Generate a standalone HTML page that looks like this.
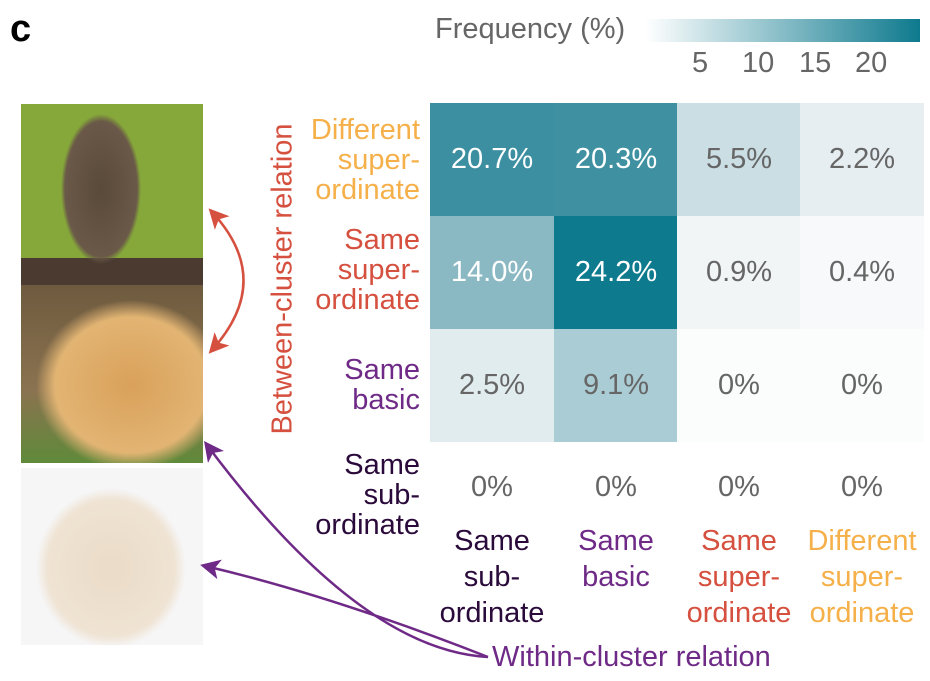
<!DOCTYPE html>
<html><head><style>
body{margin:0;background:#fff;width:930px;height:681px;overflow:hidden;position:relative;font-family:"Liberation Sans",sans-serif}
.a{position:absolute}
.cell{position:absolute;width:124px;height:113px;display:flex;align-items:center;justify-content:center;font-size:29px;color:#666}
.w{color:#fff}
.rl{position:absolute;right:510px;text-align:right;font-size:29px;line-height:30px}
.cl{position:absolute;width:124px;text-align:center;font-size:29px;line-height:36px;top:523px}
</style></head><body>
<div class="a" style="left:10px;top:8px;font-size:38px;font-weight:bold">c</div>
<div class="a" style="left:435px;top:13px;font-size:29px;color:#666">Frequency (%)</div>
<div class="a" style="left:645px;top:19px;width:275px;height:23px;background:linear-gradient(90deg,#fff,#0e7a8e)"></div>
<div class="a" style="left:692px;top:47px;font-size:29px;color:#666">5</div>
<div class="a" style="left:742px;top:47px;font-size:29px;color:#666">10</div>
<div class="a" style="left:799px;top:47px;font-size:29px;color:#666">15</div>
<div class="a" style="left:855px;top:47px;font-size:29px;color:#666">20</div>

<div class="cell w" style="left:430px;top:103px;background:#3b8fa0">20.7%</div>
<div class="cell w" style="left:554px;top:103px;background:#3f91a2">20.3%</div>
<div class="cell" style="left:677px;top:103px;background:#cadee3">5.5%</div>
<div class="cell" style="left:800px;top:103px;background:#e6eef1">2.2%</div>
<div class="cell w" style="left:430px;top:216px;background:#8ab9c4">14.0%</div>
<div class="cell w" style="left:554px;top:216px;background:#0e7a8e">24.2%</div>
<div class="cell" style="left:677px;top:216px;background:#f1f5f6">0.9%</div>
<div class="cell" style="left:800px;top:216px;background:#f7f9fa">0.4%</div>
<div class="cell" style="left:430px;top:329px;background:#e1ecef">2.5%</div>
<div class="cell" style="left:554px;top:329px;background:#aaccd4">9.1%</div>
<div class="cell" style="left:677px;top:329px;background:#fbfcfc">0%</div>
<div class="cell" style="left:800px;top:329px;background:#fbfcfc">0%</div>
<div class="cell" style="left:430px;top:441px;height:92px">0%</div>
<div class="cell" style="left:554px;top:441px;height:92px">0%</div>
<div class="cell" style="left:677px;top:441px;height:92px">0%</div>
<div class="cell" style="left:800px;top:441px;height:92px">0%</div>

<div class="rl" style="top:115px;color:#f5b04a">Different<br>super-<br>ordinate</div>
<div class="rl" style="top:225px;color:#d5503f">Same<br>super-<br>ordinate</div>
<div class="rl" style="top:355px;color:#6e2a86">Same<br>basic</div>
<div class="rl" style="top:450px;color:#2a0a3a">Same<br>sub-<br>ordinate</div>

<div class="cl" style="left:430px;color:#2a0a3a">Same<br>sub-<br>ordinate</div>
<div class="cl" style="left:554px;color:#6e2a86">Same<br>basic</div>
<div class="cl" style="left:677px;color:#d5503f">Same<br>super-<br>ordinate</div>
<div class="cl" style="left:800px;color:#f5b04a">Different<br>super-<br>ordinate</div>

<div class="a" style="left:283px;top:279px;transform:translate(-50%,-50%) rotate(-90deg);font-size:29px;color:#d5503f;white-space:nowrap">Between-cluster relation</div>
<div class="a" style="left:492px;top:641px;font-size:29px;color:#6e2a86">Within-cluster relation</div>

<div class="a" style="left:21px;top:104px;width:182px;height:181px;background:radial-gradient(ellipse 40px 75px at 80px 85px,#5a4a3a 0,#6a5848 90%,transparent 100%),linear-gradient(180deg,transparent 85%,#4a3a30 85%),#86a83a"></div>
<div class="a" style="left:21px;top:285px;width:182px;height:178px;background:radial-gradient(ellipse 95px 85px at 110px 100px,#d9a15a 0,#e2b473 80%,transparent 100%),linear-gradient(180deg,#6e5a3e 0,#8a7350 60%,#5f8a3a 100%)"></div>
<div class="a" style="left:21px;top:468px;width:182px;height:177px;background:radial-gradient(ellipse 75px 80px at 90px 100px,#eadbc7 0,#efe3d3 85%,transparent 100%),#f6f6f7"></div>

<svg class="a" style="left:0;top:0" width="930" height="681">
<defs>
<marker id="r" markerWidth="8" markerHeight="8" refX="6" refY="4" orient="auto-start-reverse"><path d="M0,0L8,4L0,8L2,4z" fill="#d5503f"/></marker>
<marker id="p" markerWidth="8" markerHeight="8" refX="6" refY="4" orient="auto"><path d="M0,0L8,4L0,8L2,4z" fill="#6e2a86"/></marker>
</defs>
<path d="M212,212 Q275,280 212,350" fill="none" stroke="#d5503f" stroke-width="2.5" marker-start="url(#r)" marker-end="url(#r)"/>
<path d="M488,657 Q360,650 207,445" fill="none" stroke="#6e2a86" stroke-width="2.5" marker-end="url(#p)"/>
<path d="M488,657 Q330,595 205,566" fill="none" stroke="#6e2a86" stroke-width="2.5" marker-end="url(#p)"/>
</svg>
</body></html>
